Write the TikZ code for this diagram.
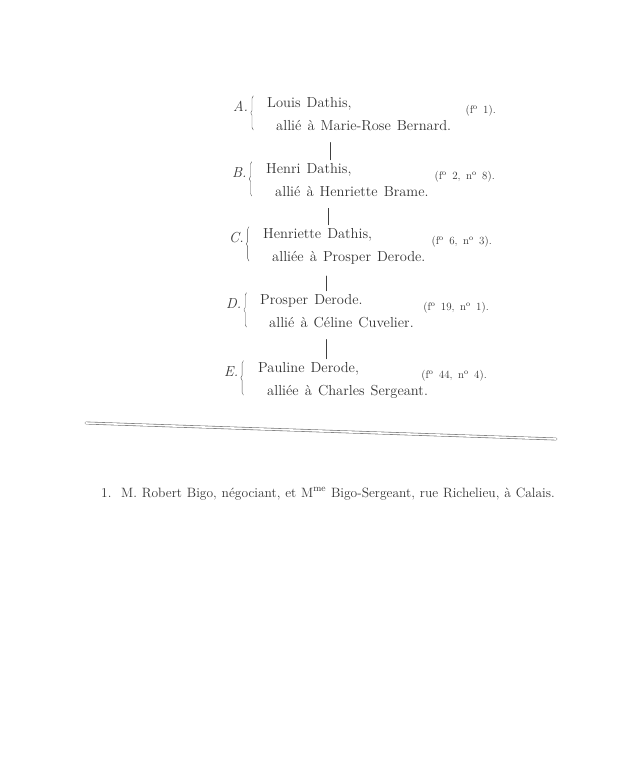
\documentclass[tikz,border=0pt]{standalone}
\usetikzlibrary{decorations.pathreplacing}
\newcommand\entryfont{\fontsize{14.5}{17}\selectfont\spaceskip=0.42em\relax}
\newcommand\foliofont{\fontsize{11}{13}\selectfont\spaceskip=0.5em\relax}
\newcommand\notefont{\fontsize{13.5}{16}\selectfont\spaceskip=0.36em\relax}
\begin{document}
\begin{tikzpicture}[x=1pt,y=-1pt,line join=round,line cap=round,thin]
			\tikzset{every node/.style={inner sep=1pt,text=black!80},
				entry/.style={anchor=base west,font=\entryfont},
				folio/.style={anchor=base east,font=\foliofont},
				link/.style={draw=black!75,semithick,shorten <=11pt,shorten >=2pt},
				brace/.style={draw=black!70,decorate,decoration={brace,amplitude=2.5pt}},
				rule/.style={draw=black!55,line width=0.6pt,double=white,double distance=1.6pt}}
			\useasboundingbox (0,0) rectangle (633,768);
			\foreach \l/\x/\y/\nm/\sp/\rf in {
				A/266/107/{Louis Dathis,}/{allié à Marie-Rose Bernard.}/{1},
				B/265/173/{Henri Dathis,}/{allié à Henriette Brame.}/{2, n\textsuperscript{o} 8},
				C/262/238/{Henriette Dathis,}/{alliée à Prosper Derode.}/{6, n\textsuperscript{o} 3},
				D/259/304/{Prosper Derode.}/{allié à Céline Cuvelier.}/{19, n\textsuperscript{o} 1},
				E/257/372/{Pauline Derode,}/{alliée à Charles Sergeant.}/{44, n\textsuperscript{o} 4}}{
				\node[entry] (l\l) at (\x-34,\y+4) {\textit{\l.}};
				\node[entry] (n\l) at (\x,\y) {\nm};
				\node[entry] (s\l) at (\x+9,\y+23) {\sp};
				\node[folio] (f\l) at (\x+231,\y+6) {(f\textsuperscript{o} \rf).};
				\draw[brace] ([xshift=4pt]l\l.east |- s\l.base) -- ([xshift=4pt]l\l.east |- n\l.north);
			}
			\foreach \a/\b/\cx in {A/B/330,B/C/328,C/D/326,D/E/326}{
				\coordinate (c\a) at (\cx,0);
				\draw[link] (c\a |- s\a.south) -- (c\a |- n\b.north);
			}
			\draw[rule] (86,423)--(556,439);
			\node[anchor=base west,font=\notefont] (note) at (100,497)
				{1.\ \ M. Robert Bigo, négociant, et M\textsuperscript{me} Bigo-Sergeant, rue Richelieu, à Calais.};
		\end{tikzpicture}
\end{document}
